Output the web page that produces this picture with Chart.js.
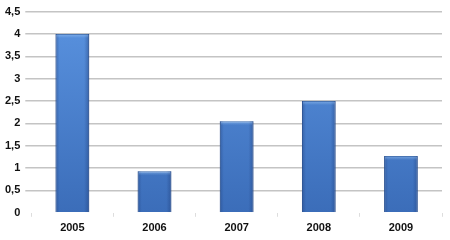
<!DOCTYPE html>
<html><head><meta charset="utf-8">
<script src="https://cdn.jsdelivr.net/npm/chart.js@4"></script>
<style>html,body{margin:0;padding:0;background:#fff}#wrap{width:450px;height:240px}</style>
</head><body><div id="wrap"><canvas id="c" width="450" height="240"></canvas></div>
<script>
const categories = ["2005", "2006", "2007", "2008", "2009"];
const values = [4.0, 0.93, 2.05, 2.5, 1.27];
const yTicks = [0, 0.5, 1, 1.5, 2, 2.5, 3, 3.5, 4, 4.5];

function barFill(ctx) {
  const chart = ctx.chart;
  const area = chart.chartArea;
  if (!area) return '#4a7fcf';
  const g = chart.ctx.createLinearGradient(0, area.top, 0, area.bottom);
  g.addColorStop(0, '#5a93e0');
  g.addColorStop(1, '#3b6db9');
  return g;
}

const edgePlugin = {
  id: 'edges',
  afterDatasetsDraw(chart) {
    const c = chart.ctx;
    const meta = chart.getDatasetMeta(0);
    meta.data.forEach(bar => {
      const l = bar.x - bar.width / 2, r = bar.x + bar.width / 2, t = bar.y, b = bar.base;
      const g = c.createLinearGradient(l, 0, r, 0);
      g.addColorStop(0, 'rgba(30,60,120,0.4)');
      g.addColorStop(0.12, 'rgba(30,60,120,0.0)');
      g.addColorStop(0.85, 'rgba(30,60,120,0.0)');
      g.addColorStop(1, 'rgba(30,60,120,0.45)');
      c.save();
      c.fillStyle = g;
      c.fillRect(l, t, r - l, b - t);
      const h = c.createLinearGradient(0, t, 0, t + 4);
      h.addColorStop(0, 'rgba(160,200,245,0.55)');
      h.addColorStop(1, 'rgba(160,200,245,0)');
      c.fillStyle = h;
      c.fillRect(l + 1, t + 0.5, r - l - 2, 4);
      c.restore();
    });
  }
};

Chart.defaults.font.family = "'Liberation Sans', Arial, sans-serif";
new Chart(document.getElementById('c'), {
  type: 'bar',
  data: {
    labels: categories,
    datasets: [{
      data: values,
      backgroundColor: barFill,
      borderColor: '#2f5c9f',
      borderWidth: 1,
      categoryPercentage: 1,
      barPercentage: 0.41
    }]
  },
  options: {
    responsive: false,
    animation: false,
    layout: { padding: { left: 0, right: 8, top: 7, bottom: 0 } },
    plugins: { legend: { display: false }, tooltip: { enabled: false } },
    scales: {
      x: {
        grid: {
          display: true, offset: true, drawOnChartArea: false, drawTicks: true,
          tickLength: 4, color: '#dddddd', tickColor: '#dddddd'
        },
        border: { display: false },
        ticks: { color: '#111', font: { size: 11, weight: 'bold' }, padding: 5 }
      },
      y: {
        min: 0, max: 4.5,
        afterBuildTicks(axis) { axis.ticks = yTicks.map(v => ({ value: v })); },
        grid: {
          color: ctx => ctx.tick && ctx.tick.value === 0 ? 'rgba(0,0,0,0)' : '#c4c4c4',
          lineWidth: 1.5, drawTicks: true, tickLength: 6
        },
        border: { display: false },
        ticks: {
          color: '#111', font: { size: 11, weight: 'bold' }, padding: 5,
          callback: v => String(v).replace('.', ',')
        }
      }
    }
  },
  plugins: [edgePlugin]
});
</script>
</body></html>
